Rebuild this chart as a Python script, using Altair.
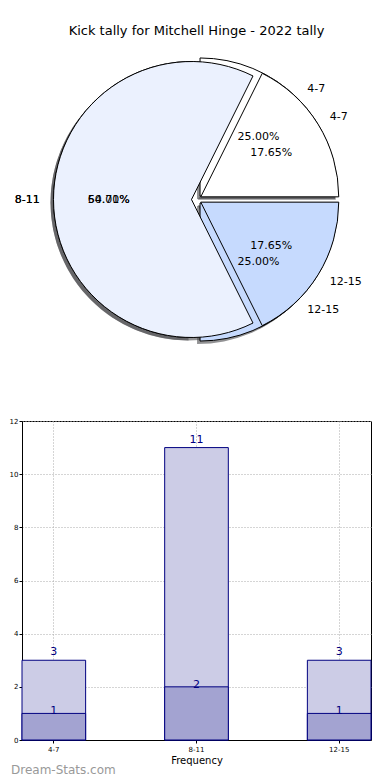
import math
import altair as alt
import pandas as pd

# ---- data ----
categories = ["4-7", "8-11", "12-15"]
total_counts = [3, 11, 3]     # front pie (17.65 / 64.71 / 17.65 %) and outer bars
inner_counts = [1, 2, 1]      # back pie (25 / 50 / 25 %) and inner bars
pie_colors = ["#FFFFFF", "#EBF1FE", "#C6DAFE"]
title_text = "Kick tally for Mitchell Hinge - 2022 tally"
x_title = "Frequency"
watermark = "Dream-Stats.com"

FONT = "DejaVu Sans"

# ---- pie panel ----
W, HP = 349, 315
CX, CY = W / 2, HP / 2
R = 138
EXPLODE = 5
stack_order = {"12-15": 0, "8-11": 1, "4-7": 2}   # clockwise from 3 o'clock

rows = []
for pie, counts in (("back", inner_counts), ("front", total_counts)):
    for c, n in zip(categories, counts):
        rows.append({"pie": pie, "cat": c, "n": n, "ord": stack_order[c]})
pie_df = pd.DataFrame(rows)

theta_scale = alt.Scale(domain=[0, 1], range=[math.pi / 2, math.pi / 2 + 2 * math.pi])
color_scale = alt.Scale(domain=categories, range=pie_colors)

base = (
    alt.Chart(pie_df)
    .transform_joinaggregate(tot="sum(n)", groupby=["pie"])
    .transform_window(cum="sum(n)", sort=[alt.SortField("ord")], groupby=["pie"], frame=[None, 0])
    .transform_calculate(
        start="(datum.cum - datum.n) / datum.tot",
        end="datum.cum / datum.tot",
        mid="(datum.cum - datum.n / 2) / datum.tot",
        pct="format(datum.n / datum.tot * 100, '.2f') + '%'",
    )
)


def offsets(counts):
    """explode offsets along each wedge's mid-angle (counter-clockwise from east)"""
    tot = sum(counts)
    out, acc = {}, 0
    for c, n in zip(categories, counts):
        a = 2 * math.pi * (acc + n / 2) / tot
        out[c] = (EXPLODE * math.cos(a), -EXPLODE * math.sin(a))
        acc += n
    return out


shadow_layers, wedge_layers, text_layers = [], [], []
for pie, counts in (("back", inner_counts), ("front", total_counts)):
    offs = offsets(counts)
    for c in categories:
        dx, dy = offs[c]
        sel = base.transform_filter(
            (alt.datum.pie == pie) & (alt.datum.cat == c)
        )
        shadow_layers.append(
            sel.mark_arc(fill="#4a4a4c", fillOpacity=0.6).encode(
                theta=alt.Theta("start:Q", scale=theta_scale),
                theta2="end:Q",
                x=alt.value(CX + dx - 3),
                y=alt.value(CY + dy + 3),
                radius=alt.value(R),
            )
        )
        wedge_layers.append(
            sel.mark_arc(stroke="black", strokeWidth=1).encode(
                theta=alt.Theta("start:Q", scale=theta_scale),
                theta2="end:Q",
                fill=alt.Fill("cat:N", scale=color_scale, legend=None),
                x=alt.value(CX + dx),
                y=alt.value(CY + dy),
                radius=alt.value(R),
            )
        )
        align = "right" if c == "8-11" else "left"
        text_layers.append(
            sel.mark_text(
                radius=1.1 * R, align=align, baseline="middle", fontSize=11, font=FONT, color="black"
            ).encode(
                theta=alt.Theta("mid:Q", scale=theta_scale),
                text="cat:N",
                x=alt.value(CX + dx),
                y=alt.value(CY + dy),
            )
        )
        text_layers.append(
            sel.mark_text(
                radius=0.6 * R, align="center", baseline="middle", fontSize=11, font=FONT, color="black"
            ).encode(
                theta=alt.Theta("mid:Q", scale=theta_scale),
                text="pct:N",
                x=alt.value(CX + dx),
                y=alt.value(CY + dy),
            )
        )

pie_chart = alt.layer(*shadow_layers, *wedge_layers, *text_layers).properties(
    width=W,
    height=HP,
    view=alt.ViewBackground(stroke="transparent"),
    title=alt.TitleParams(
        title_text, fontSize=13, fontWeight="normal", font=FONT, anchor="middle", offset=4, color="black"
    ),
)

# ---- bar panel ----
BW, BH = 349, 319
bar_df = pd.DataFrame({"cat": categories, "total": total_counts, "inner": inner_counts})

x_enc = alt.X(
    "cat:N",
    sort=categories,
    scale=alt.Scale(paddingInner=0.554, paddingOuter=0),
    axis=alt.Axis(
        title=x_title,
        labelAngle=0,
        labelFontSize=7,
        labelFont=FONT,
        labelColor="black",
        labelPadding=2,
        tickSize=3,
        tickColor="black",
        tickBand="center",
        bandPosition=0.5,
        grid=True,
        gridDash=[1, 2],
        gridColor="#aaaaaa",
        domainColor="black",
        titleFontSize=10,
        titleFont=FONT,
        titleFontWeight="normal",
        titleColor="black",
        titlePadding=3,
    ),
)
y_axis = alt.Axis(
    title=None,
    values=[0, 2, 4, 6, 8, 10, 12],
    labelFontSize=7,
    labelFont=FONT,
    labelColor="black",
    labelPadding=1,
    tickSize=3,
    tickColor="black",
    grid=True,
    gridDash=[1, 2],
    gridColor="#aaaaaa",
    domainColor="black",
)
y_scale = alt.Scale(domain=[0, 12], nice=False)

bars_b = alt.Chart(bar_df)
outer_bars = bars_b.mark_bar(fill="#CCCCE6", stroke="#000080", strokeWidth=1).encode(
    x=x_enc, y=alt.Y("total:Q", scale=y_scale, axis=y_axis)
)
inner_bars = bars_b.mark_bar(fill="#A3A3D1", stroke="#000080", strokeWidth=1).encode(
    x=x_enc, y=alt.Y("inner:Q", scale=y_scale)
)
outer_text = bars_b.mark_text(baseline="bottom", dy=-3, fontSize=11, font=FONT, color="#000080").encode(
    x=x_enc, y=alt.Y("total:Q", scale=y_scale), text="total:Q"
)
inner_text = bars_b.mark_text(baseline="bottom", dy=3, fontSize=11, font=FONT, color="#000080").encode(
    x=x_enc, y=alt.Y("inner:Q", scale=y_scale), text="inner:Q"
)
wm = alt.Chart(pd.DataFrame({"t": [watermark]})).mark_text(
    align="left", baseline="middle", fontSize=12, font=FONT, color="#999999"
).encode(text="t:N", x=alt.value(-11), y=alt.value(BH + 30))

bar_chart = alt.layer(outer_bars, inner_bars, outer_text, inner_text, wm).properties(
    width=BW, height=BH
)

chart = (
    alt.vconcat(pie_chart, bar_chart, spacing=58)
    .properties(padding={"left": 0, "top": 16, "right": 0, "bottom": 0})
    .configure_view(stroke="black", strokeWidth=1)
)

chart.save("out.html", embed_options={"renderer": "svg", "actions": False})
